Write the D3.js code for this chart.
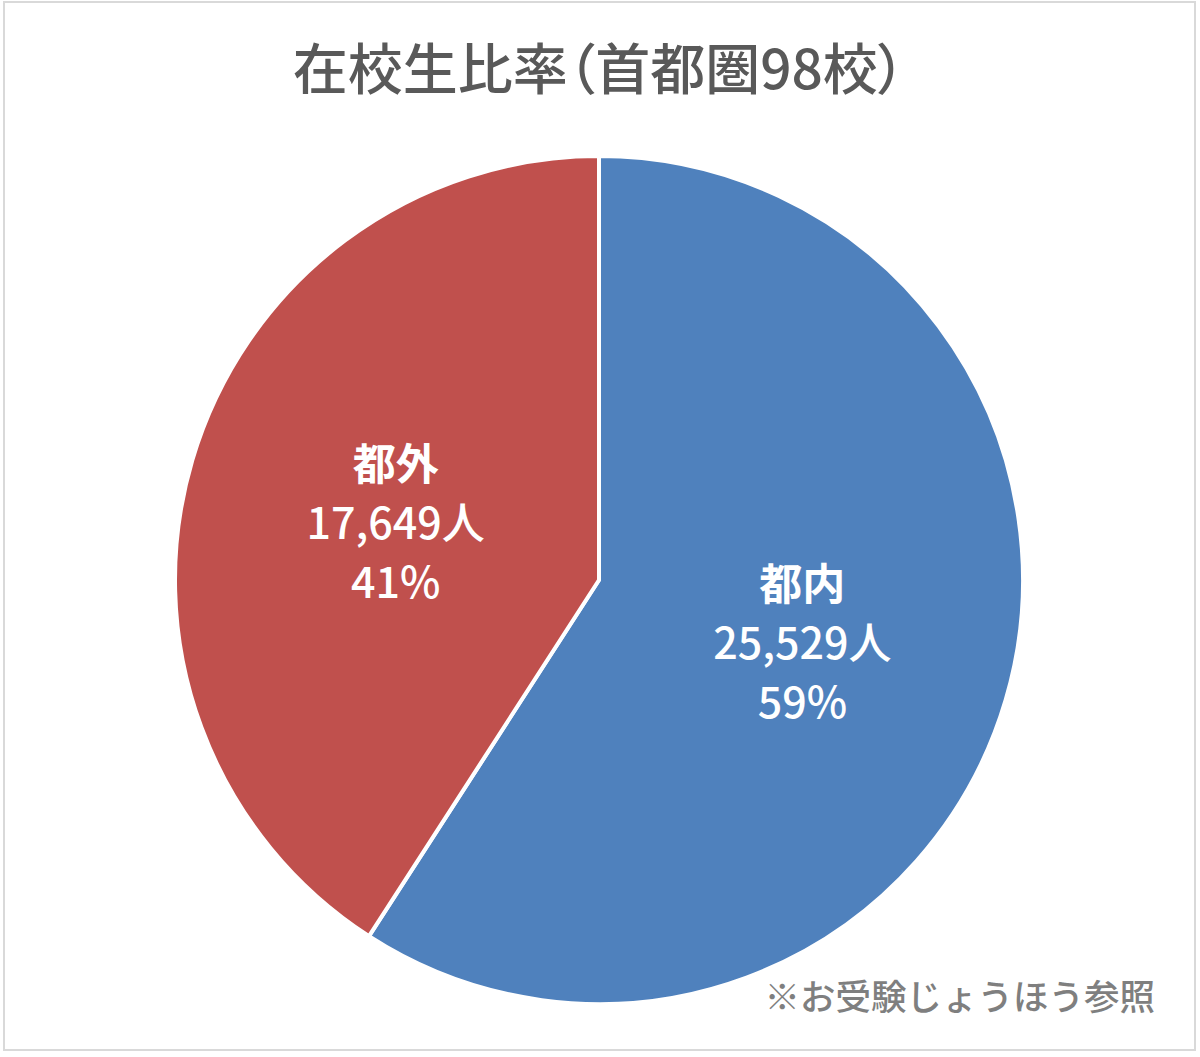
<!DOCTYPE html>
<html>
<head>
<meta charset="utf-8">
<script src="https://cdn.jsdelivr.net/npm/d3@7"></script>
<style>
html,body{margin:0;padding:0;background:#fff;}
svg{display:block;}
text{font-family:"Noto Sans CJK JP","Noto Sans",sans-serif;}
.title{font-feature-settings:"palt" 1;}
</style>
</head>
<body>
<script>
const categories = ["都内", "都外"];
const values = [25529, 17649];
const percentLabels = ["59%", "41%"];
const colors = ["#4F81BD", "#C0504D"];
const titleText = "在校生比率（首都圏98校）";
const sourceText = "※お受験じょうほう参照";

const W = 1200, H = 1057;
const cx = 599, cy = 580, R = 424;

const svg = d3.select("body").append("svg").attr("width", W).attr("height", H);

svg.append("rect").attr("x", 4).attr("y", 2).attr("width", 1191).attr("height", 1048)
  .attr("fill", "#fff").attr("stroke", "#d9d9d9").attr("stroke-width", 2);

svg.append("text").attr("class", "title").attr("x", 599).attr("y", 89).attr("text-anchor", "middle")
  .attr("font-size", 55).attr("font-weight", 500).attr("fill", "#595959").text(titleText);

const pie = d3.pie().sort(null).value(d => d)(values);
const arc = d3.arc().innerRadius(0).outerRadius(R);
const labelArc = d3.arc().innerRadius(R * 0.5).outerRadius(R * 0.5);

const g = svg.append("g").attr("transform", `translate(${cx},${cy})`);
g.selectAll("path").data(pie).join("path")
  .attr("d", arc).attr("fill", (d, i) => colors[i])
  .attr("stroke", "#fff").attr("stroke-width", 4).attr("stroke-linejoin", "round");

const fmt = d3.format(",");
const lab = g.selectAll("g.lab").data(pie).join("g").attr("class", "lab")
  .attr("transform", d => { const c = labelArc.centroid(d); return `translate(${c[0]},${c[1]})`; });
lab.each(function (d, i) {
  const s = d3.select(this);
  const lines = [categories[i], fmt(values[i]) + "人", percentLabels[i]];
  lines.forEach((t, k) => {
    s.append("text").attr("x", 0).attr("y", (k - 1) * 59 + 19)
      .attr("text-anchor", "middle").attr("font-size", 43)
      .attr("font-weight", k === 0 ? 700 : 500)
      .attr("fill", "#fff").text(t);
  });
});

svg.append("text").attr("x", 1155).attr("y", 1010).attr("text-anchor", "end")
  .attr("font-size", 35.5).attr("font-weight", 500).attr("fill", "#7f7f7f").text(sourceText);
</script>
</body>
</html>
